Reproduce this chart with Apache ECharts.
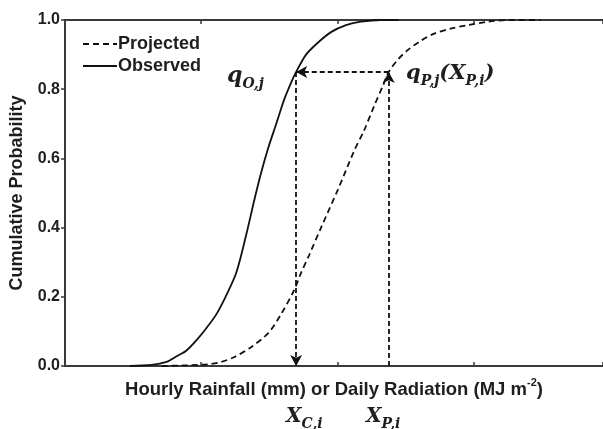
<!DOCTYPE html>
<html>
<head>
<meta charset="utf-8">
<script src="https://cdn.jsdelivr.net/npm/echarts@6/dist/echarts.min.js"></script>
<style>
  html, body { margin: 0; padding: 0; background: #fff; }
  #chart { width: 603px; height: 429px; }
</style>
</head>
<body>
<div id="chart"></div>
<script>
// Empirical CDFs (x in axis units, cumulative probability)
const observedX = [0.476, 0.636, 0.746, 0.819, 0.892, 0.966, 1.039, 1.112, 1.185, 1.258, 1.331, 1.390, 1.441, 1.492, 1.551, 1.609, 1.661, 1.697, 1.770, 1.858, 1.953, 2.063, 2.173, 2.319, 2.450];
const observedP = [0.000, 0.003, 0.012, 0.028, 0.045, 0.075, 0.110, 0.150, 0.205, 0.270, 0.380, 0.480, 0.560, 0.630, 0.700, 0.770, 0.820, 0.850, 0.900, 0.935, 0.965, 0.985, 0.995, 1.000, 1.000];

const projectedX = [0.710, 0.892, 1.053, 1.148, 1.244, 1.368, 1.492, 1.587, 1.683, 1.734, 1.792, 1.880, 2.004, 2.121, 2.195, 2.268, 2.334, 2.377, 2.443, 2.516, 2.612, 2.707, 2.831, 2.955, 3.101, 3.270, 3.490];
const projectedP = [0.000, 0.002, 0.005, 0.012, 0.026, 0.055, 0.095, 0.150, 0.220, 0.270, 0.320, 0.400, 0.510, 0.620, 0.680, 0.750, 0.810, 0.850, 0.885, 0.913, 0.940, 0.960, 0.975, 0.985, 0.995, 1.000, 1.000];

// Quantile mapping: probability level and the two matched values
const qLevel = 0.85;
const xCorrected = 1.697;
const xProjected = 2.377;

const yTicks = [0, 0.2, 0.4, 0.6, 0.8, 1.0];

const pairs = (xs, ys) => xs.map((x, i) => [x, ys[i]]);

const chart = echarts.init(document.getElementById('chart'), null, { renderer: 'canvas' });

const axisColor = '#3a3a3a';
const textColor = '#1e1e1e';
const mathFont = 'DejaVu Serif';

// Italic math label with subscripts: parts alternate main/sub text
function mathLabel(parts, mainSize, subSize, lineH) {
  const text = parts.map((p, i) => (i % 2 === 0 ? '{q|' : '{s|') + p + '}').join('');
  const base = { fontFamily: mathFont, fontStyle: 'italic', fontWeight: 'bold', lineHeight: lineH, fill: textColor };
  return {
    text,
    rich: {
      q: Object.assign({}, base, { fontSize: mainSize, verticalAlign: 'middle' }),
      s: Object.assign({}, base, { fontSize: subSize, verticalAlign: 'bottom' })
    }
  };
}

const option = {
  animation: false,
  backgroundColor: '#ffffff',
  grid: { left: 63, right: 0, top: 20, bottom: 63 },
  legend: {
    orient: 'vertical',
    left: 77,
    top: 29,
    itemWidth: 34,
    itemHeight: 12,
    itemGap: 2,
    selectedMode: false,
    itemStyle: { opacity: 0 },
    data: ['Projected', 'Observed'],
    textStyle: { color: textColor, fontFamily: 'Liberation Sans', fontWeight: 'bold', fontSize: 18, lineHeight: 20, padding: [0, 0, 0, -4] }
  },
  xAxis: [
    {
      type: 'value', min: 0, max: 3.95, interval: 1, position: 'bottom',
      name: '{t|Hourly Rainfall (mm) or Daily Radiation (MJ m}{s|-2}{t|)}',
      nameLocation: 'middle', nameGap: 11,
      nameTextStyle: {
        color: textColor,
        rich: {
          t: { fontFamily: 'Liberation Sans', fontWeight: 'bold', fontSize: 18.5, lineHeight: 22, verticalAlign: 'bottom', color: textColor },
          s: { fontFamily: 'Liberation Sans', fontWeight: 'bold', fontSize: 11, lineHeight: 22, verticalAlign: 'top', color: textColor }
        }
      },
      axisLine: { show: true, lineStyle: { color: axisColor, width: 2 } },
      axisTick: { show: true, inside: true, length: 4, lineStyle: { color: axisColor, width: 1.5 } },
      axisLabel: { show: false },
      splitLine: { show: false }
    },
    {
      type: 'value', min: 0, max: 3.95, interval: 1, position: 'top',
      axisLine: { show: true, lineStyle: { color: axisColor, width: 2 } },
      axisTick: { show: true, inside: true, length: 4, lineStyle: { color: axisColor, width: 1.5 } },
      axisLabel: { show: false },
      splitLine: { show: false }
    }
  ],
  yAxis: {
    type: 'value', min: 0, max: 1, interval: 0.2,
    name: 'Cumulative Probability',
    nameLocation: 'middle', nameGap: 39,
    nameTextStyle: { color: textColor, fontFamily: 'Liberation Sans', fontWeight: 'bold', fontSize: 18 },
    axisLine: { show: true, lineStyle: { color: axisColor, width: 2 } },
    axisTick: { show: true, inside: false, length: 4, lineStyle: { color: axisColor, width: 1.5 } },
    axisLabel: {
      margin: 5, color: textColor, fontFamily: 'Liberation Sans', fontWeight: 'bold', fontSize: 16,
      formatter: v => yTicks.some(t => Math.abs(t - v) < 1e-9) ? v.toFixed(1) : ''
    },
    splitLine: { show: false }
  },
  series: [
    {
      name: 'Projected', type: 'line', symbol: 'none', smooth: 0.3,
      data: pairs(projectedX, projectedP),
      lineStyle: { color: '#111', width: 1.8, type: [6, 4] },
      itemStyle: { color: '#111' }
    },
    {
      name: 'Observed', type: 'line', symbol: 'none', smooth: 0.3,
      data: pairs(observedX, observedP),
      lineStyle: { color: '#111', width: 1.8 },
      itemStyle: { color: '#111' }
    },
    {
      name: 'mapping', type: 'line', data: [],
      markLine: {
        silent: true,
        symbol: ['none', 'arrow'],
        symbolSize: [9, 11],
        label: { show: false },
        lineStyle: { color: '#111', width: 1.8, type: [5, 3] },
        data: [
          [{ coord: [xProjected, qLevel] }, { coord: [xCorrected, qLevel] }],
          [{ coord: [xCorrected, qLevel] }, { coord: [xCorrected, 0] }],
          [{ coord: [xProjected, 0] }, { coord: [xProjected, qLevel] }]
        ]
      }
    }
  ],
  graphic: [
    { type: 'text', left: 227, top: 65, style: mathLabel(['q', 'O,j'], 22, 14, 30) },
    { type: 'text', left: 406, top: 63, style: mathLabel(['q', 'P,j', '(X', 'P,i', ')'], 21, 14, 30) },
    { type: 'text', left: 286, top: 407, style: mathLabel(['X', 'C,i'], 20, 14, 28) },
    { type: 'text', left: 366, top: 407, style: mathLabel(['X', 'P,i'], 20, 14, 28) }
  ]
};

chart.setOption(option);
</script>
</body>
</html>
